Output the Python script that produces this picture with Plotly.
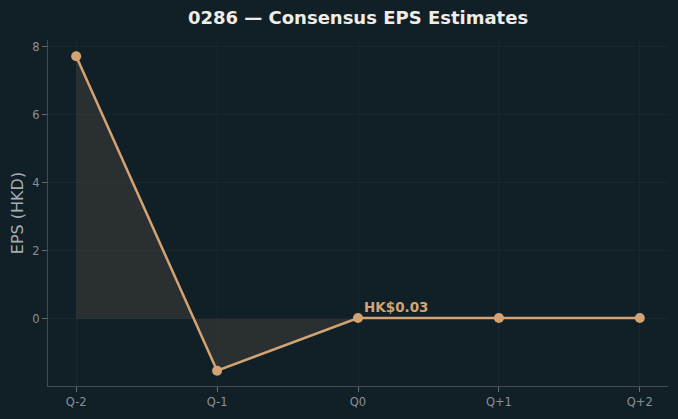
import plotly.graph_objects as go

quarters = ["Q-2", "Q-1", "Q0", "Q+1", "Q+2"]
eps = [7.72, -1.52, 0.03, 0.03, 0.03]
label_text = "HK$0.03"
title_text = "0286 — Consensus EPS Estimates"

bg = "#111f27"
line_c = "#d4a373"
font_f = "DejaVu Sans"

fig = go.Figure()
fig.add_trace(go.Scatter(
    x=list(range(len(quarters))), y=eps, mode="lines+markers",
    line=dict(color=line_c, width=2.5),
    marker=dict(size=10, color=line_c),
    fill="tozeroy", fillcolor="rgba(90,80,70,0.35)",
    hoverinfo="skip", showlegend=False,
))
fig.add_annotation(x=2, y=eps[2], text="<b>%s</b>" % label_text, showarrow=False,
                   xanchor="left", yanchor="bottom", xshift=4, yshift=1,
                   font=dict(family=font_f, size=13.5, color=line_c))
fig.update_layout(
    width=678, height=419,
    paper_bgcolor=bg, plot_bgcolor=bg,
    margin=dict(l=48, r=10, t=40, b=33),
    title=dict(text="<b>%s</b>" % title_text, x=0.5, xref="paper", xanchor="center",
               y=0.957, yanchor="middle",
               font=dict(family=font_f, size=18, color="#f0ece6")),
    font=dict(family=font_f, color="#8a9196", size=11),
    xaxis=dict(tickmode="array", tickvals=list(range(len(quarters))), ticktext=quarters,
               range=[-0.2, 4.2], showgrid=True, gridcolor="rgba(255,255,255,0.03)",
               showline=True, linecolor="#454b4e", ticks="outside", tickcolor="#666c70",
               ticklen=5, zeroline=False, tickfont=dict(size=11.5, color="#8a9196")),
    yaxis=dict(range=[-1.97, 8.2], tickvals=[0, 2, 4, 6, 8], showgrid=True,
               gridcolor="rgba(255,255,255,0.03)", showline=True, linecolor="#454b4e",
               ticks="outside", tickcolor="#666c70", ticklen=5, zeroline=False,
               title=dict(text="EPS (HKD)", font=dict(size=16, color="#a8adb0"), standoff=4),
               tickfont=dict(size=11.5, color="#8a9196")),
)
fig.write_html("out.html")
